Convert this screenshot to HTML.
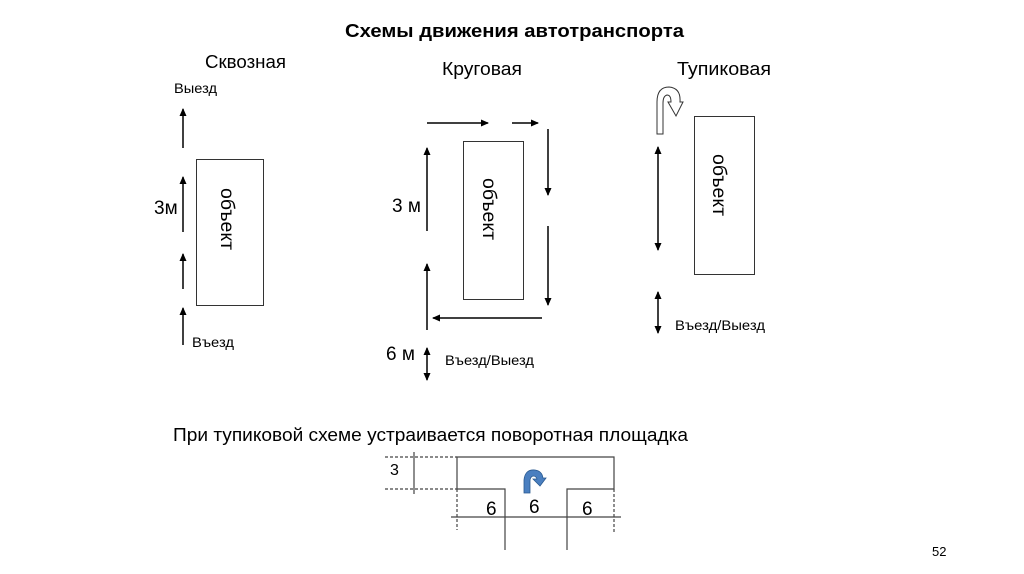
<!DOCTYPE html>
<html><head><meta charset="utf-8"><style>
body{margin:0;background:#fff}
svg{display:block}
text{font-family:"Liberation Sans","DejaVu Sans",sans-serif;fill:#000}
</style></head><body>
<svg width="1024" height="574" viewBox="0 0 1024 574">
<defs>
<marker id="a" markerWidth="8" markerHeight="8" refX="7" refY="4" orient="auto" markerUnits="userSpaceOnUse"><path d="M0,0.5 L8,4 L0,7.5z" fill="#000"/></marker>
<marker id="b" markerWidth="8" markerHeight="8" refX="1" refY="4" orient="auto" markerUnits="userSpaceOnUse"><path d="M8,0.5 L0,4 L8,7.5z" fill="#000"/></marker>
</defs>
<text x="345" y="37" font-size="18" font-weight="bold" textLength="339" lengthAdjust="spacingAndGlyphs">Схемы движения автотранспорта</text>
<text x="205" y="68" font-size="18" textLength="81" lengthAdjust="spacingAndGlyphs">Сквозная</text>
<text x="442" y="75" font-size="18" textLength="80" lengthAdjust="spacingAndGlyphs">Круговая</text>
<text x="677" y="75" font-size="18" textLength="94" lengthAdjust="spacingAndGlyphs">Тупиковая</text>
<g stroke="#000" stroke-width="1.5" fill="none">
<rect x="196.5" y="159.5" width="67" height="146" stroke-width="1" stroke="#333"/>
<line x1="183" y1="148" x2="183" y2="109" marker-end="url(#a)"/>
<line x1="183" y1="232" x2="183" y2="177" marker-end="url(#a)"/>
<line x1="183" y1="289" x2="183" y2="254" marker-end="url(#a)"/>
<line x1="183" y1="345" x2="183" y2="308" marker-end="url(#a)"/>
<rect x="463.5" y="141.5" width="60" height="158" stroke-width="1" stroke="#333"/>
<line x1="427" y1="123" x2="488" y2="123" marker-end="url(#a)"/>
<line x1="512" y1="123" x2="538" y2="123" marker-end="url(#a)"/>
<line x1="548" y1="129" x2="548" y2="195" marker-end="url(#a)"/>
<line x1="548" y1="226" x2="548" y2="305" marker-end="url(#a)"/>
<line x1="542" y1="318" x2="433" y2="318" marker-end="url(#a)"/>
<line x1="427" y1="231" x2="427" y2="148" marker-end="url(#a)"/>
<line x1="427" y1="330" x2="427" y2="264" marker-end="url(#a)"/>
<line x1="427" y1="348" x2="427" y2="380" marker-start="url(#b)" marker-end="url(#a)"/>
<rect x="694.5" y="116.5" width="60" height="158" stroke-width="1" stroke="#333"/>
<line x1="658" y1="147" x2="658" y2="250" marker-start="url(#b)" marker-end="url(#a)"/>
<line x1="658" y1="292" x2="658" y2="333" marker-start="url(#b)" marker-end="url(#a)"/>
</g>
<path d="M657,134 L657,102 Q657,87 669,87 Q681,88 680,102 L683,102 L676,116 L668,102 L671,102 Q671,95 667,95 Q663,96 663,103 L663,134 Z" fill="#fff" stroke="#333" stroke-width="1"/>
<text font-size="19" transform="translate(221,188) rotate(90)" textLength="62" lengthAdjust="spacingAndGlyphs">объект</text>
<text font-size="19" transform="translate(483,178) rotate(90)" textLength="62" lengthAdjust="spacingAndGlyphs">объект</text>
<text font-size="19" transform="translate(713,154) rotate(90)" textLength="62" lengthAdjust="spacingAndGlyphs">объект</text>
<text x="174" y="93" font-size="14" textLength="43" lengthAdjust="spacingAndGlyphs">Выезд</text>
<text x="192" y="347" font-size="14" textLength="42" lengthAdjust="spacingAndGlyphs">Въезд</text>
<text x="154" y="214" font-size="19">3м</text>
<text x="392" y="212" font-size="19">3 м</text>
<text x="386" y="360" font-size="19">6 м</text>
<text x="445" y="365" font-size="14" textLength="89" lengthAdjust="spacingAndGlyphs">Въезд/Выезд</text>
<text x="675" y="330" font-size="14" textLength="90" lengthAdjust="spacingAndGlyphs">Въезд/Выезд</text>
<text x="173" y="441" font-size="18" textLength="515" lengthAdjust="spacingAndGlyphs">При тупиковой схеме устраивается поворотная площадка</text>
<g stroke="#444" stroke-width="1.2" fill="none">
<line x1="385" y1="457" x2="457" y2="457" stroke-dasharray="3,2"/>
<line x1="385" y1="489" x2="457" y2="489" stroke-dasharray="3,2"/>
<line x1="414" y1="452" x2="414" y2="494"/>
<path d="M505,550 L505,489 L457,489 L457,457 L614,457 L614,489 L567,489 L567,550"/>
<line x1="451" y1="517" x2="621" y2="517"/>
<line x1="457" y1="489" x2="457" y2="530" stroke-dasharray="3,2"/>
<line x1="614" y1="489" x2="614" y2="533" stroke-dasharray="3,2"/>
</g>
<path d="M524,493 L524,480 Q525,469 535,470 Q542,471 543,478 L546,478 L540,486 L533,479 L537,479 Q536,476 533,476 Q530,477 530,481 L530,493 Z" fill="#4a7fc0" stroke="#2a5a90" stroke-width="0.8"/>
<text x="390" y="475" font-size="16">3</text>
<text x="486" y="515" font-size="19">6</text>
<text x="529" y="513" font-size="19">6</text>
<text x="582" y="515" font-size="19">6</text>
<text x="932" y="556" font-size="13">52</text>
</svg>
</body></html>
